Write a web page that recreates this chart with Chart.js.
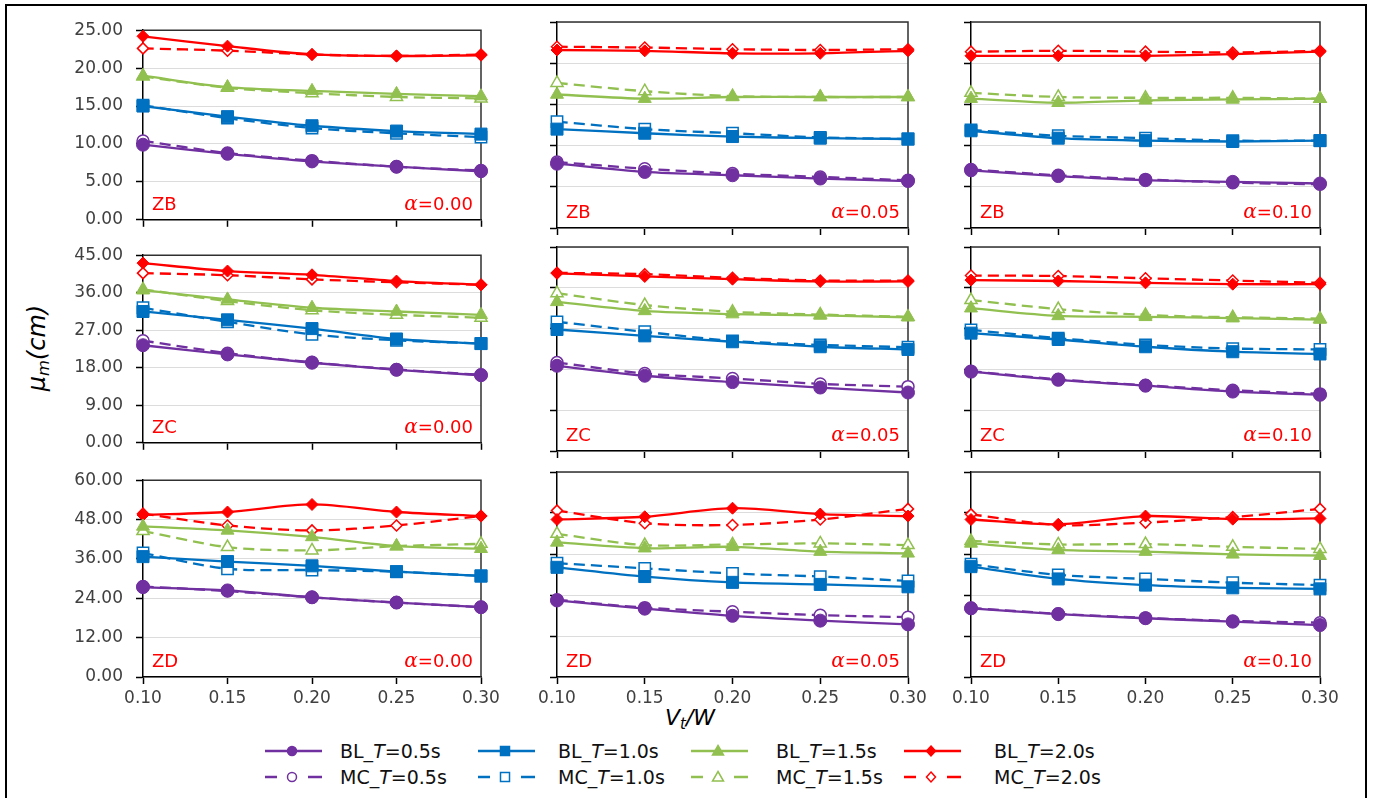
<!DOCTYPE html>
<html>
<head>
<meta charset="utf-8">
<script src="https://cdn.jsdelivr.net/npm/chart.js@4.4.1/dist/chart.umd.min.js"></script>
<style>
  body { margin: 0; background: #fff; width: 1375px; height: 798px; overflow: hidden; font-family: "DejaVu Sans", sans-serif; }
  #frame { position: absolute; left: 5px; top: 4px; width: 1358px; height: 830px; border: 2px solid #000; }
  canvas { position: absolute; }
  .ttl { position: absolute; font-style: italic; color: #000; white-space: nowrap; transform: translate(-50%, -50%); }
  .ttl sub { font-size: 0.68em; vertical-align: -0.25em; }
  #ytitle { left: 38px; top: 348px; font-size: 24px; transform: translate(-50%, -50%) rotate(-90deg); }
  #xtitle { left: 690px; top: 719px; font-size: 22px; }
  .legtxt { position: absolute; font-size: 19px; color: #111; white-space: nowrap; line-height: 24px; }
  svg.legsym { position: absolute; }
</style>
</head>
<body>
<div id="frame"></div>
<div class="ttl" id="ytitle">μ<sub>m</sub>(cm)</div>
<div class="ttl" id="xtitle">V<sub>t</sub>/W</div>
<div id="wrap"></div>
<script>
// x categories (V_t/W)
const xLabels = ['0.10', '0.15', '0.20', '0.25', '0.30'];
const periods = ['0.5', '1.0', '1.5', '2.0'];
const zones = ['ZB', 'ZC', 'ZD'];
const alphas = ['0.00', '0.05', '0.10'];
const yMax = [25, 45, 60];
const yStep = [5, 9, 12];

// each array: rows are T = 0.5, 1.0, 1.5, 2.0 s
const zbA0Bl = [[9.9, 8.7, 7.7, 7.0, 6.4], [15.0, 13.6, 12.4, 11.7, 11.3], [19.0, 17.5, 17.0, 16.6, 16.3], [24.2, 22.9, 21.8, 21.6, 21.7]];
const zbA0Mc = [[10.4, 8.8, 7.8, 7.0, 6.5], [15.1, 13.4, 12.1, 11.4, 10.9], [18.9, 17.4, 16.7, 16.2, 16.0], [22.6, 22.3, 21.8, 21.6, 21.8]];
const zbA5Bl = [[7.8, 6.8, 6.4, 6.0, 5.7], [12.0, 11.5, 11.1, 10.9, 10.8], [16.2, 15.7, 15.9, 15.9, 15.9], [21.6, 21.5, 21.2, 21.2, 21.5]];
const zbA5Mc = [[8.0, 7.2, 6.6, 6.2, 5.8], [12.9, 12.0, 11.5, 11.0, 10.8], [17.6, 16.6, 16.0, 15.9, 15.9], [22.0, 21.9, 21.7, 21.6, 21.7]];
const zbA10Bl = [[7.0, 6.3, 5.8, 5.6, 5.4], [11.8, 10.9, 10.6, 10.5, 10.6], [15.7, 15.2, 15.5, 15.6, 15.7], [20.9, 20.9, 20.9, 21.1, 21.4]];
const zbA10Mc = [[7.1, 6.4, 5.9, 5.5, 5.3], [11.9, 11.2, 10.9, 10.6, 10.6], [16.4, 15.9, 15.8, 15.8, 15.7], [21.4, 21.5, 21.4, 21.3, 21.5]];

const zcA0Bl = [[23.4, 21.2, 19.2, 17.5, 16.2], [31.5, 29.5, 27.4, 24.9, 23.8], [36.6, 34.4, 32.4, 31.5, 30.7], [43.1, 41.2, 40.3, 38.8, 37.9]];
const zcA0Mc = [[24.5, 21.5, 19.3, 17.6, 16.3], [32.4, 29.0, 26.0, 24.6, 23.8], [36.8, 34.0, 31.8, 30.7, 30.0], [40.7, 40.2, 39.2, 38.5, 37.9]];
const zcA5Bl = [[18.8, 16.6, 15.2, 14.0, 12.9], [26.8, 25.4, 24.1, 23.0, 22.4], [32.9, 30.9, 30.2, 29.9, 29.5], [39.2, 38.5, 37.9, 37.4, 37.4]];
const zcA5Mc = [[19.5, 17.1, 16.0, 14.8, 14.2], [28.5, 26.3, 24.3, 23.4, 22.9], [34.8, 32.2, 30.7, 30.1, 29.6], [39.3, 39.0, 38.2, 37.6, 37.6]];
const zcA10Bl = [[17.5, 15.7, 14.4, 13.1, 12.4], [26.0, 24.6, 23.0, 21.9, 21.4], [31.5, 29.8, 29.6, 29.3, 29.0], [37.7, 37.5, 37.1, 36.8, 36.8]];
const zcA10Mc = [[17.6, 15.8, 14.5, 13.4, 12.6], [26.7, 24.9, 23.4, 22.6, 22.4], [33.3, 31.3, 30.0, 29.5, 29.2], [38.7, 38.6, 38.1, 37.6, 37.1]];

const zdA0Bl = [[27.4, 26.4, 24.3, 22.7, 21.3], [36.7, 35.2, 33.9, 32.1, 30.8], [45.9, 44.7, 42.7, 39.9, 39.1], [49.4, 50.3, 52.6, 50.3, 49.1]];
const zdA0Mc = [[27.6, 26.2, 24.3, 22.7, 21.3], [37.8, 33.0, 32.6, 32.1, 30.8], [44.5, 39.6, 38.6, 39.9, 40.6], [49.8, 46.2, 44.7, 46.2, 49.1]];
const zdA5Bl = [[22.4, 20.0, 17.9, 16.5, 15.4], [32.1, 29.4, 27.7, 27.1, 26.4], [39.4, 37.7, 38.1, 36.7, 36.2], [46.1, 46.9, 49.4, 47.7, 47.1]];
const zdA5Mc = [[22.6, 20.3, 19.1, 18.1, 17.5], [33.3, 31.8, 30.3, 29.4, 28.1], [41.9, 38.6, 38.8, 39.1, 38.6], [48.7, 45.0, 44.5, 46.1, 49.2]];
const zdA10Bl = [[20.1, 18.4, 17.2, 16.2, 15.2], [32.3, 28.7, 26.9, 26.1, 25.8], [39.1, 37.2, 36.7, 35.9, 35.5], [46.1, 44.7, 47.1, 46.2, 46.4]];
const zdA10Mc = [[20.2, 18.5, 17.3, 16.4, 15.9], [33.0, 29.9, 28.7, 27.6, 26.9], [39.8, 38.8, 38.9, 38.1, 37.5], [47.6, 44.5, 45.2, 46.8, 49.2]];

const blSets = [[zbA0Bl, zbA5Bl, zbA10Bl], [zcA0Bl, zcA5Bl, zcA10Bl], [zdA0Bl, zdA5Bl, zdA10Bl]];
const mcSets = [[zbA0Mc, zbA5Mc, zbA10Mc], [zcA0Mc, zcA5Mc, zcA10Mc], [zdA0Mc, zdA5Mc, zdA10Mc]];

const colors = ['#7030A0', '#0070C0', '#92C050', '#FF0000'];
const markers = ['circle', 'rect', 'triangle', 'rectRot'];
const radii = [6.5, 8.5, 7.5, 6];

// panel plot-area placement
const colL = [143, 557, 971], colR = [481, 908, 1320];
const rowT = [22, 247, 472], rowB = [228, 451, 677];
const yW = [133, 30, 30];
const xH = [10, 10, 40];
const FONT = '"DejaVu Sans", sans-serif';

const panelBox = {
  id: 'panelBox',
  beforeDatasetsDraw(chart) {
    const { ctx, chartArea: a } = chart;
    ctx.save();
    ctx.strokeStyle = '#303030';
    ctx.lineWidth = 1.5;
    ctx.beginPath();
    ctx.moveTo(a.left, a.top);
    ctx.lineTo(a.right, a.top);
    ctx.lineTo(a.right, a.bottom);
    ctx.stroke();
    ctx.restore();
  }
};

const panelText = {
  id: 'panelText',
  afterDatasetsDraw(chart, args, o) {
    const { ctx, chartArea: a } = chart;
    ctx.save();
    ctx.fillStyle = '#FF0000';
    ctx.textBaseline = 'alphabetic';
    ctx.font = '18px ' + FONT;
    ctx.textAlign = 'left';
    ctx.fillText(o.zone, a.left + 9, a.bottom - 10);
    const rest = '=' + o.alpha;
    ctx.textAlign = 'right';
    ctx.fillText(rest, a.right - 8, a.bottom - 10);
    const w = ctx.measureText(rest).width;
    ctx.font = 'italic 20px "DejaVu Serif", serif';
    ctx.fillText('α', a.right - 8 - w, a.bottom - 10);
    ctx.restore();
  }
};

function makePanel(r, c) {
  const wrap = document.getElementById('wrap');
  const cv = document.createElement('canvas');
  const w = yW[c] + (colR[c] - colL[c]) + 30;
  const h = 15 + (rowB[r] - rowT[r]) + xH[r] + 5;
  cv.width = w; cv.height = h;
  cv.style.left = (colL[c] - yW[c]) + 'px';
  cv.style.top = (rowT[r] - 15) + 'px';
  cv.style.width = w + 'px'; cv.style.height = h + 'px';
  wrap.appendChild(cv);

  const datasets = [];
  const bl = blSets[r][c], mc = mcSets[r][c];
  for (let k = 0; k < 4; k++) {
    datasets.push({
      label: 'BL_T=' + periods[k] + 's',
      data: bl[k],
      borderColor: colors[k],
      backgroundColor: colors[k],
      borderWidth: 2.3,
      pointStyle: markers[k],
      pointRadius: radii[k],
      pointBackgroundColor: colors[k],
      pointBorderColor: colors[k],
      pointBorderWidth: 1,
      tension: 0.3,
      clip: false,
      order: 0
    });
  }
  for (let k = 0; k < 4; k++) {
    datasets.push({
      label: 'MC_T=' + periods[k] + 's',
      data: mc[k],
      borderColor: colors[k],
      backgroundColor: '#fff',
      borderWidth: 2.3,
      borderDash: [11, 6],
      pointStyle: markers[k],
      pointRadius: radii[k] - 0.5,
      pointBackgroundColor: '#fff',
      pointBorderColor: colors[k],
      pointBorderWidth: 1.5,
      tension: 0.3,
      clip: false,
      order: 1
    });
  }

  new Chart(cv, {
    type: 'line',
    data: { labels: xLabels, datasets },
    plugins: [panelBox, panelText],
    options: {
      responsive: false,
      animation: false,
      events: [],
      layout: { padding: { left: 0, right: 30, top: 15, bottom: 5 } },
      plugins: {
        legend: { display: false },
        tooltip: { enabled: false },
        panelText: { zone: zones[r], alpha: alphas[c] }
      },
      scales: {
        x: {
          type: 'category',
          offset: false,
          afterFit: s => { s.height = xH[r]; },
          grid: { drawOnChartArea: false, drawTicks: true, tickLength: 7, tickColor: '#000', tickWidth: 1.5 },
          border: { display: true, color: '#000', width: 1.5 },
          ticks: {
            display: r === 2,
            padding: 4,
            color: '#404040',
            font: { family: FONT, size: 17 },
            maxRotation: 0,
            autoSkip: false
          }
        },
        y: {
          min: 0,
          max: yMax[r],
          afterFit: s => { s.width = yW[c]; },
          grid: { color: '#dcdcdc', lineWidth: 1, drawTicks: true, tickLength: 7, tickColor: '#000', tickWidth: 1.5 },
          border: { display: true, color: '#000', width: 1.5 },
          ticks: {
            display: c === 0,
            stepSize: yStep[r],
            padding: 13,
            color: '#404040',
            font: { family: FONT, size: 17 },
            callback: v => Number(v).toFixed(2)
          }
        }
      }
    }
  });
}

for (let r = 0; r < 3; r++) for (let c = 0; c < 3; c++) makePanel(r, c);

// shared legend
const legLineX = [265, 478, 691, 904];
const legTextX = [340, 558, 776, 994];
const legRowY = [751, 777];
const NS = 'http://www.w3.org/2000/svg';

function markerSvg(k, cx, cy, fill) {
  const col = colors[k];
  let el;
  if (k === 0) {
    el = document.createElementNS(NS, 'circle');
    el.setAttribute('cx', cx); el.setAttribute('cy', cy); el.setAttribute('r', 4.5);
  } else if (k === 1) {
    el = document.createElementNS(NS, 'rect');
    el.setAttribute('x', cx - 4.5); el.setAttribute('y', cy - 4.5);
    el.setAttribute('width', 9); el.setAttribute('height', 9);
  } else if (k === 2) {
    el = document.createElementNS(NS, 'polygon');
    el.setAttribute('points', `${cx},${cy - 5.5} ${cx + 5.5},${cy + 4} ${cx - 5.5},${cy + 4}`);
  } else {
    el = document.createElementNS(NS, 'polygon');
    el.setAttribute('points', `${cx},${cy - 5} ${cx + 4.5},${cy} ${cx},${cy + 5} ${cx - 4.5},${cy}`);
  }
  el.setAttribute('fill', fill ? col : '#fff');
  el.setAttribute('stroke', col);
  el.setAttribute('stroke-width', 1.5);
  return el;
}

function addLine(svg, x1, x2, col) {
  const ln = document.createElementNS(NS, 'line');
  ln.setAttribute('x1', x1); ln.setAttribute('x2', x2);
  ln.setAttribute('y1', 12); ln.setAttribute('y2', 12);
  ln.setAttribute('stroke', col); ln.setAttribute('stroke-width', 2.5);
  svg.appendChild(ln);
}

for (let row = 0; row < 2; row++) {
  for (let k = 0; k < 4; k++) {
    const svg = document.createElementNS(NS, 'svg');
    svg.setAttribute('class', 'legsym');
    svg.setAttribute('width', 60); svg.setAttribute('height', 24);
    svg.style.left = legLineX[k] + 'px';
    svg.style.top = (legRowY[row] - 12) + 'px';
    if (row === 0) {
      addLine(svg, 0, 57, colors[k]);
    } else {
      addLine(svg, 0, 12, colors[k]);
      addLine(svg, 43, 57, colors[k]);
    }
    svg.appendChild(markerSvg(k, 27, 12, row === 0));
    document.body.appendChild(svg);

    const t = document.createElement('div');
    t.className = 'legtxt';
    t.style.left = legTextX[k] + 'px';
    t.style.top = (legRowY[row] - 12) + 'px';
    t.innerHTML = (row === 0 ? 'BL_' : 'MC_') + '<i>T</i>=' + periods[k] + 's';
    document.body.appendChild(t);
  }
}
</script>
</body>
</html>
